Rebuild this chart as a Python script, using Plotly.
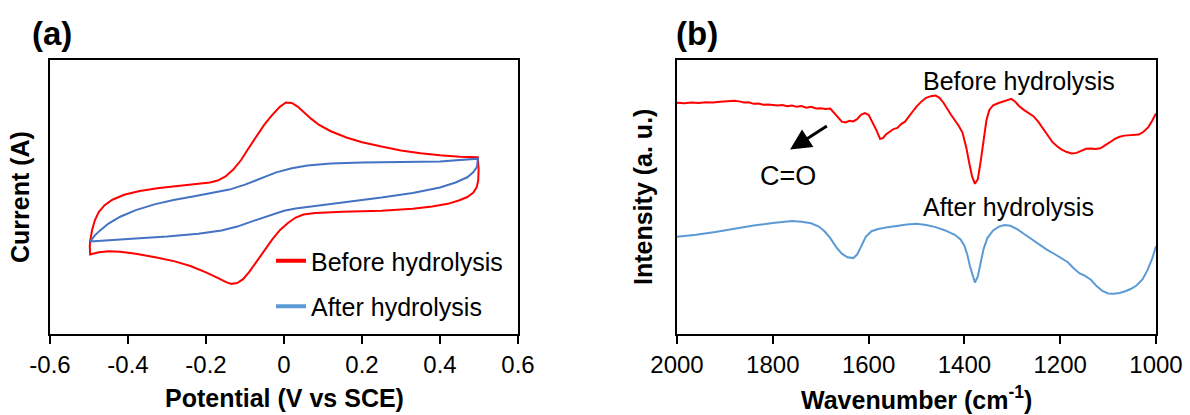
import plotly.graph_objects as go

# ---------------- Panel (a): cyclic voltammetry (arbitrary current units) ----------------
cv_before_v = [-0.497, -0.492, -0.485, -0.475, -0.460, -0.440, -0.41, -0.37, -0.32, -0.27, -0.22,
               -0.19, -0.17, -0.15, -0.13, -0.11, -0.09, -0.07, -0.05, -0.03, -0.01, 0.005, 0.02,
               0.035, 0.05, 0.07, 0.09, 0.12, 0.16, 0.20, 0.25, 0.30, 0.35, 0.40, 0.45, 0.497,
               0.499, 0.498, 0.494, 0.485, 0.47, 0.45, 0.42, 0.38, 0.33, 0.25, 0.15, 0.08, 0.05,
               0.03, 0.01, -0.01, -0.03, -0.05, -0.07, -0.09, -0.105, -0.12, -0.135, -0.15, -0.17,
               -0.20, -0.24, -0.28, -0.33, -0.38, -0.42, -0.45, -0.475, -0.497, -0.498, -0.497]
cv_before_i = [0.340, 0.380, 0.415, 0.445, 0.470, 0.490, 0.508, 0.522, 0.533, 0.541, 0.548,
               0.553, 0.560, 0.575, 0.600, 0.635, 0.680, 0.725, 0.765, 0.800, 0.830, 0.845, 0.843,
               0.830, 0.810, 0.785, 0.763, 0.740, 0.717, 0.700, 0.684, 0.670, 0.660, 0.652, 0.647,
               0.645, 0.600, 0.560, 0.535, 0.515, 0.500, 0.488, 0.475, 0.465, 0.457, 0.450, 0.446,
               0.442, 0.436, 0.425, 0.405, 0.380, 0.345, 0.305, 0.265, 0.225, 0.200, 0.186, 0.183,
               0.190, 0.205, 0.225, 0.248, 0.265, 0.280, 0.293, 0.300, 0.302, 0.298, 0.290, 0.320,
               0.340]

cv_after_v = [-0.497, -0.485, -0.47, -0.45, -0.42, -0.38, -0.33, -0.28, -0.23, -0.18, -0.14,
              -0.10, -0.06, -0.02, 0.02, 0.06, 0.12, 0.20, 0.30, 0.40, 0.497, 0.495, 0.485, 0.47,
              0.44, 0.40, 0.33, 0.25, 0.15, 0.08, 0.03, 0.0, -0.04, -0.08, -0.12, -0.16, -0.22,
              -0.30, -0.40, -0.497]
cv_after_i = [0.338, 0.360, 0.380, 0.403, 0.428, 0.452, 0.474, 0.490, 0.503, 0.515, 0.527,
              0.545, 0.568, 0.590, 0.605, 0.615, 0.622, 0.626, 0.628, 0.630, 0.640, 0.610, 0.590,
              0.572, 0.553, 0.535, 0.515, 0.498, 0.480, 0.468, 0.458, 0.450, 0.432, 0.412, 0.392,
              0.378, 0.366, 0.356, 0.347, 0.338]

cv_ticks = [-0.6, -0.4, -0.2, 0, 0.2, 0.4, 0.6]
cv_ticktext = ["-0.6", "-0.4", "-0.2", "0", "0.2", "0.4", "0.6"]

# ---------------- Panel (b): FTIR spectra (arbitrary intensity units) ----------------
ir_before_w = [2000, 1985, 1970, 1955, 1940, 1925, 1910, 1895, 1880, 1870, 1860, 1850, 1840, 1830,
               1820, 1810, 1800, 1790, 1780, 1770, 1760, 1750, 1740, 1730, 1720, 1710, 1700, 1690,
               1680, 1672, 1664, 1656, 1648, 1640, 1632, 1624, 1616, 1608, 1600, 1592, 1584, 1576,
               1570, 1564, 1556, 1548, 1540, 1532, 1524, 1516, 1508, 1500, 1490, 1480, 1470, 1460,
               1452, 1444, 1436, 1428, 1420, 1412, 1404, 1396, 1390, 1384, 1378, 1372, 1366, 1360,
               1354, 1348, 1340, 1330, 1320, 1310, 1302, 1294, 1286, 1276, 1266, 1256, 1246, 1236,
               1226, 1216, 1206, 1196, 1186, 1176, 1166, 1156, 1146, 1136, 1126, 1116, 1106, 1096,
               1086, 1076, 1066, 1056, 1046, 1036, 1026, 1016, 1008, 1000]
ir_before_y = [0.844, 0.842, 0.845, 0.843, 0.846, 0.845, 0.848, 0.850, 0.851, 0.849, 0.845, 0.846,
               0.840, 0.841, 0.837, 0.838, 0.835, 0.834, 0.836, 0.831, 0.834, 0.829, 0.832, 0.826,
               0.829, 0.823, 0.824, 0.821, 0.823, 0.808, 0.790, 0.775, 0.772, 0.778, 0.776, 0.784,
               0.800, 0.806, 0.800, 0.775, 0.745, 0.712, 0.715, 0.728, 0.737, 0.748, 0.752, 0.766,
               0.775, 0.795, 0.812, 0.830, 0.848, 0.862, 0.868, 0.870, 0.862, 0.845, 0.820, 0.800,
               0.780, 0.760, 0.735, 0.680, 0.625, 0.575, 0.548, 0.565, 0.630, 0.710, 0.780, 0.818,
               0.835, 0.842, 0.848, 0.856, 0.858, 0.848, 0.832, 0.818, 0.808, 0.795, 0.775, 0.750,
               0.722, 0.700, 0.684, 0.672, 0.664, 0.659, 0.661, 0.668, 0.676, 0.677, 0.675, 0.678,
               0.688, 0.700, 0.712, 0.720, 0.724, 0.725, 0.726, 0.728, 0.738, 0.755, 0.778, 0.805]

ir_after_w = [2000, 1960, 1920, 1880, 1840, 1800, 1780, 1760, 1740, 1720, 1704, 1692, 1680, 1668,
              1656, 1644, 1632, 1624, 1616, 1606, 1594, 1580, 1560, 1540, 1520, 1500, 1480, 1460,
              1440, 1420, 1408, 1400, 1394, 1388, 1382, 1378, 1372, 1366, 1360, 1352, 1340, 1328,
              1316, 1304, 1290, 1276, 1260, 1244, 1228, 1212, 1196, 1184, 1172, 1160, 1148, 1136,
              1124, 1112, 1100, 1088, 1076, 1064, 1052, 1040, 1028, 1018, 1008, 1000]
ir_after_y = [0.355, 0.362, 0.372, 0.385, 0.396, 0.405, 0.408, 0.412, 0.410, 0.404, 0.392, 0.375,
              0.350, 0.318, 0.293, 0.280, 0.277, 0.290, 0.318, 0.355, 0.375, 0.383, 0.390, 0.396,
              0.400, 0.402, 0.398, 0.390, 0.378, 0.362, 0.345, 0.322, 0.290, 0.245, 0.205, 0.188,
              0.210, 0.262, 0.310, 0.350, 0.378, 0.392, 0.398, 0.395, 0.383, 0.366, 0.346, 0.326,
              0.308, 0.292, 0.276, 0.262, 0.240, 0.222, 0.212, 0.198, 0.175, 0.157, 0.148, 0.147,
              0.150, 0.156, 0.165, 0.178, 0.200, 0.232, 0.275, 0.320]

ir_ticks = [2000, 1800, 1600, 1400, 1200, 1000]
ir_ticktext = ["2000", "1800", "1600", "1400", "1200", "1000"]

RED = "#FF0000"
BLUE_A = "#4472C4"
BLUE_L = "#5B9BD5"
FONT = "Liberation Sans, Arial, sans-serif"

fig = go.Figure()

fig.add_trace(go.Scatter(x=cv_before_v, y=cv_before_i, mode="lines", line=dict(color=RED, width=2),
                         showlegend=False, xaxis="x", yaxis="y"))
fig.add_trace(go.Scatter(x=cv_after_v, y=cv_after_i, mode="lines", line=dict(color=BLUE_A, width=2),
                         showlegend=False, xaxis="x", yaxis="y"))
# legend entries
fig.add_trace(go.Scatter(x=[None], y=[None], mode="lines", line=dict(color=RED, width=4),
                         name="Before hydrolysis", legendgroup="g1", xaxis="x", yaxis="y"))
fig.add_trace(go.Scatter(x=[None], y=[None], mode="lines", line=dict(color=BLUE_L, width=4),
                         name="After hydrolysis", legendgroup="g2", xaxis="x", yaxis="y"))

fig.add_trace(go.Scatter(x=ir_before_w, y=ir_before_y, mode="lines", line=dict(color=RED, width=2),
                         showlegend=False, xaxis="x2", yaxis="y2"))
fig.add_trace(go.Scatter(x=ir_after_w, y=ir_after_y, mode="lines", line=dict(color=BLUE_L, width=2),
                         showlegend=False, xaxis="x2", yaxis="y2"))

W, H = 1190, 415
def px(x): return x / W
def py(y): return 1 - y / H

axis_common = dict(showgrid=False, zeroline=False, showline=True, linecolor="black", linewidth=2,
                   mirror=True, automargin=False)

def ann(text, x, y, size, xref="paper", yref="paper", angle=0):
    return dict(text=text, x=x, y=y, xref=xref, yref=yref, showarrow=False, textangle=angle,
                xanchor="center", yanchor="middle", font=dict(size=size, family=FONT, color="black"))

fig.update_layout(
    width=W, height=H, margin=dict(l=0, r=0, t=0, b=0, autoexpand=False),
    paper_bgcolor="white", plot_bgcolor="white",
    font=dict(family=FONT, color="black", size=24),
    xaxis=dict(domain=[px(50), px(518)], range=[-0.6, 0.6], tickmode="array",
               tickvals=cv_ticks, ticktext=cv_ticktext, ticks="outside", ticklen=8,
               tickwidth=2, tickcolor="black", tickfont=dict(size=24), anchor="y", **axis_common),
    yaxis=dict(domain=[py(334), py(60)], range=[0, 1], showticklabels=False, ticks="",
               anchor="x", **axis_common),
    xaxis2=dict(domain=[px(677), px(1156)], range=[2000, 1000], tickmode="array",
                tickvals=ir_ticks, ticktext=ir_ticktext, ticks="outside", ticklen=8,
                tickwidth=2, tickcolor="black", tickfont=dict(size=24), anchor="y2", **axis_common),
    yaxis2=dict(domain=[py(334), py(60)], range=[0, 1], showticklabels=False, ticks="",
                anchor="x2", **axis_common),
    legend=dict(x=px(271), y=py(238), xanchor="left", yanchor="top", bgcolor="rgba(0,0,0,0)",
                font=dict(size=25, family=FONT), tracegroupgap=10, itemwidth=30),
    annotations=[
        ann("<b>(a)</b>", px(52), py(33), 33),
        ann("<b>(b)</b>", px(697), py(33), 33),
        ann("<b>Potential (V vs SCE)</b>", px(284), py(398), 25),
        ann("<b>Wavenumber (cm<sup>-1</sup>)</b>", px(916), py(398), 25),
        ann("<b>Current (A)</b>", px(20), py(197), 25, angle=-90),
        ann("<b>Intensity (a. u.)</b>", px(643), py(197), 25, angle=-90),
        ann("Before hydrolysis", 1285, 0.925, 25, "x2", "y2"),
        ann("After hydrolysis", 1308, 0.463, 25, "x2", "y2"),
        ann("C=O", 1768, 0.578, 27, "x2", "y2"),
        dict(text="", x=1764, y=0.673, ax=1684, ay=0.763, xref="x2", yref="y2", axref="x2",
             ayref="y2", showarrow=True, arrowhead=2, arrowsize=1.4, arrowwidth=3,
             arrowcolor="black"),
    ],
)

fig.write_html("out.html")
